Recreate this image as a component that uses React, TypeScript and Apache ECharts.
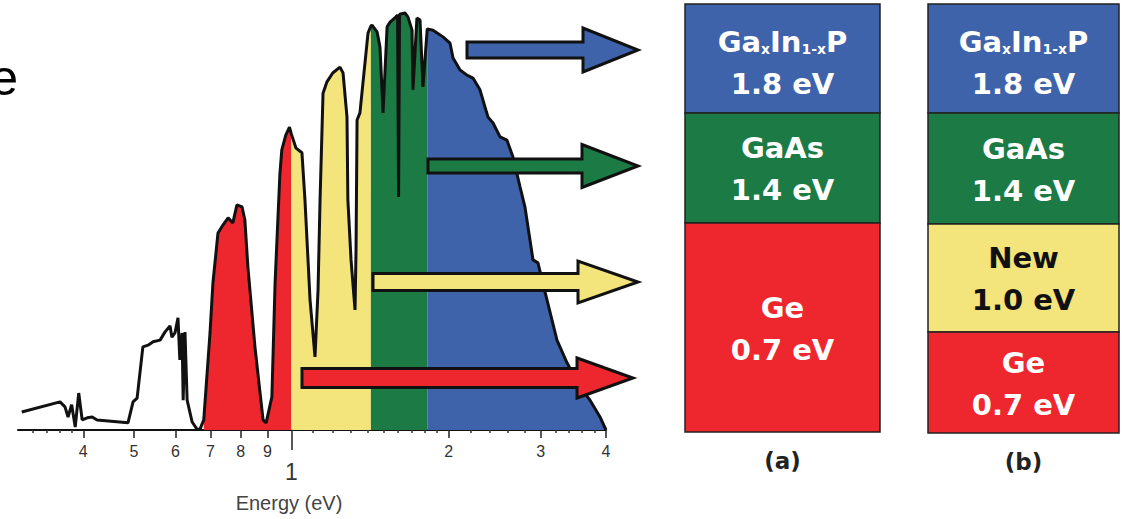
import React, { useEffect, useRef } from "react";
import * as echarts from "echarts";

// Solar spectrum: photon energy (eV) and relative intensity (0-100)
const energies = [
  0.305, 0.361, 0.369, 0.374, 0.38, 0.386, 0.392, 0.398, 0.407, 0.416, 0.425, 0.487, 0.498, 0.507,
  0.52, 0.532, 0.544, 0.561, 0.573, 0.586, 0.591, 0.599, 0.607, 0.612, 0.618, 0.621, 0.626, 0.632,
  0.646, 0.66, 0.669, 0.68, 0.699, 0.708, 0.724, 0.74, 0.757, 0.773, 0.787, 0.805, 0.815, 0.826,
  0.852, 0.883, 0.895, 0.918, 0.931, 0.943, 0.951, 0.959, 0.976, 0.992, 1.0, 1.021, 1.048, 1.062,
  1.086, 1.11, 1.125, 1.135, 1.15, 1.17, 1.2, 1.239, 1.256, 1.278, 1.283, 1.301, 1.324, 1.33, 1.336,
  1.353, 1.371, 1.402, 1.42, 1.427, 1.459, 1.478, 1.498, 1.525, 1.545, 1.578, 1.597, 1.604, 1.611,
  1.65, 1.672, 1.702, 1.709, 1.739, 1.763, 1.786, 1.82, 1.867, 1.951, 2.012, 2.039, 2.103, 2.168,
  2.226, 2.296, 2.347, 2.379, 2.432, 2.508, 2.586, 2.655, 2.739, 2.8, 2.9, 2.964, 3.084, 3.223,
  3.369, 3.567, 3.728, 3.896, 4.0,
];
const intensities = [
  4.3, 6.7, 5.5, 3.1, 6.0, 0.7, 8.8, 2.4, 2.9, 3.1, 2.4, 1.7, 6.7, 7.6,
  19.8, 20.2, 21.0, 21.4, 23.3, 24.8, 22.1, 23.1, 26.7, 16.7, 23.1, 7.1, 23.3, 7.1,
  1.9, 0.2, 0.2, 2.4, 23.1, 35.0, 46.9, 48.8, 50.5, 49.3, 53.6, 53.1, 50.0, 38.8,
  19.8, 2.4, 1.7, 7.9, 35.0, 50.7, 61.0, 66.7, 70.2, 72.1, 70.5, 67.1, 66.0, 54.8,
  31.0, 17.4, 33.3, 54.8, 80.2, 82.9, 85.0, 86.4, 85.0, 74.5, 54.8, 40.5, 28.6, 42.9, 73.8,
  75.5, 82.6, 94.5, 96.2, 96.4, 94.8, 91.2, 75.5, 96.0, 97.1, 98.1, 98.8, 55.5, 99.0,
  99.3, 98.3, 95.2, 81.0, 98.1, 97.6, 81.7, 95.5, 95.2, 93.6, 92.1, 88.6, 85.7, 84.5,
  83.8, 81.0, 76.9, 74.5, 73.1, 69.8, 69.0, 65.0, 57.9, 53.0, 40.5, 39.8, 31.0, 21.4,
  16.0, 10.2, 7.1, 3.1, 0.0,
];

// Absorption bands of the sub-cells (eV)
const bandEdges = [0.68, 1.0, 1.42, 1.82, 4.0];
const bandColors = ["#ee272e", "#f3e47b", "#1c7a45", "#3f63aa"];

// Axis ticks
const axisMin = 0.3;
const axisMax = 4;
const majorTickEnergies = [0.4, 0.5, 0.6, 0.7, 0.8, 0.9, 2, 3, 4];
const majorTickLabels = ["4", "5", "6", "7", "8", "9", "2", "3", "4"];
const unitTickEnergies = [1];
const unitTickLabels = ["1"];
const minorTickEnergies = [
  0.32, 0.34, 0.36, 0.38, 1.1, 1.2, 1.3, 1.4, 1.5, 1.6, 1.7, 1.8, 1.9, 2.2, 2.4, 2.6, 2.8, 3.2, 3.4,
  3.6, 3.8,
];

// Cell stacks
const stackANames = ["GaInP", "GaAs", "Ge"];
const stackAGaps = ["1.8 eV", "1.4 eV", "0.7 eV"];
const stackAColors = ["#3f63aa", "#1c7a45", "#ee272e"];
const stackBNames = ["GaInP", "GaAs", "New", "Ge"];
const stackBGaps = ["1.8 eV", "1.4 eV", "1.0 eV", "0.7 eV"];
const stackBColors = ["#3f63aa", "#1c7a45", "#f3e47b", "#ee272e"];
const stackTitles = ["(a)", "(b)"];

const L = (e: number) => Math.log10(e);

export default function App() {
  const ref = useRef<HTMLDivElement>(null);

  useEffect(() => {
    const chart = echarts.init(ref.current!, undefined, { renderer: "svg" });

    const pts = energies.map((e, i) => [L(e), intensities[i]]);
    const bandSeries = bandColors.map((c, b) => ({
      type: "line",
      data: energies
        .map((e, i) => ({ e, v: intensities[i] }))
        .filter((p) => p.e >= bandEdges[b] - 1e-9 && p.e <= bandEdges[b + 1] + 1e-9)
        .map((p) => [L(p.e), p.v]),
      symbol: "none",
      lineStyle: { opacity: 0, width: 0 },
      areaStyle: { color: c, opacity: 1 },
      silent: true,
      z: 2,
    }));

    const majorLog = majorTickEnergies.map(L);
    const unitLog = unitTickEnergies.map(L);
    const minorLog = minorTickEnergies.map(L);
    const labelFor = (vals: number[], labels: string[]) => (v: number) => {
      const i = vals.findIndex((x) => Math.abs(x - v) < 1e-6);
      return i >= 0 ? labels[i] : "";
    };

    const commonAxis = {
      type: "value",
      min: L(axisMin),
      max: L(axisMax),
      position: "bottom",
      gridIndex: 0,
      splitLine: { show: false },
    };

    // Layout of the two stacks (pixels)
    const stacks = [
      { x: 685, w: 195, edges: [4, 113, 223, 432], names: stackANames, gaps: stackAGaps, colors: stackAColors, title: stackTitles[0], ty: 461 },
      { x: 928, w: 191, edges: [4, 113, 224, 332, 433], names: stackBNames, gaps: stackBGaps, colors: stackBColors, title: stackTitles[1], ty: 462 },
    ];
    const rich = {
      n: { fontSize: 29, fontWeight: "bold", fontFamily: "DejaVu Sans", lineHeight: 42 },
      s: { fontSize: 14, fontWeight: "bold", fontFamily: "DejaVu Sans", padding: [14, 0, 0, 0] },
    };
    const nameText = (n: string) => (n === "GaInP" ? "{n|Ga}{s|x}{n|In}{s|1-x}{n|P}" : `{n|${n}}`);

    const stackGraphics: any[] = [];
    stacks.forEach((s) => {
      s.names.forEach((name, i) => {
        const y0 = s.edges[i];
        const y1 = s.edges[i + 1];
        const dark = s.colors[i] === "#f3e47b";
        stackGraphics.push({
          type: "rect",
          shape: { x: s.x, y: y0, width: s.w, height: y1 - y0 },
          style: { fill: s.colors[i], stroke: "#222", lineWidth: 1.5 },
          z: 10,
        });
        stackGraphics.push({
          type: "text",
          x: s.x + s.w / 2,
          y: (y0 + y1) / 2 + (name === "GaInP" ? 4 : 1),
          style: {
            text: `${nameText(name)}\n{n|${s.gaps[i]}}`,
            rich,
            fill: dark ? "#111" : "#ffffff",
            align: "center",
            verticalAlign: "middle",
          },
          z: 11,
        });
      });
      stackGraphics.push({
        type: "text",
        x: s.x + s.w / 2,
        y: s.ty,
        style: {
          text: s.title,
          fill: "#222",
          font: 'bold 23px "DejaVu Sans"',
          align: "center",
          verticalAlign: "middle",
        },
        z: 11,
      });
    });

    // Arrows (pixels): start, head base, tip, centre y, shaft half-height, head half-height
    const arrows = [
      { c: bandColors[3], x0: 467, xb: 583, xt: 638, cy: 50, sh: 8, hh: 22 },
      { c: bandColors[2], x0: 428, xb: 582, xt: 638, cy: 166, sh: 7, hh: 21.5 },
      { c: bandColors[1], x0: 373, xb: 578, xt: 638, cy: 282, sh: 8.5, hh: 21 },
      { c: bandColors[0], x0: 302, xb: 577, xt: 633, cy: 378, sh: 9.5, hh: 20 },
    ];
    const arrowGraphics = arrows.map((a) => ({
      type: "polygon",
      shape: {
        points: [
          [a.x0, a.cy - a.sh],
          [a.xb, a.cy - a.sh],
          [a.xb, a.cy - a.hh],
          [a.xt, a.cy],
          [a.xb, a.cy + a.hh],
          [a.xb, a.cy + a.sh],
          [a.x0, a.cy + a.sh],
        ],
      },
      style: { fill: a.c, stroke: "#111", lineWidth: 3, lineJoin: "miter" },
      z: 20,
    }));

    chart.setOption({
      animation: false,
      grid: { left: 18, right: 516, top: 10, bottom: 89 },
      xAxis: [
        {
          ...commonAxis,
          axisLine: { show: true, lineStyle: { color: "#111", width: 2 } },
          axisTick: { show: true, customValues: majorLog, length: 8, lineStyle: { color: "#222", width: 1.5 } },
          axisLabel: {
            show: true,
            customValues: majorLog,
            formatter: labelFor(majorLog, majorTickLabels),
            margin: 13,
            fontSize: 16,
            fontFamily: "Liberation Sans",
            color: "#333",
          },
        },
        {
          ...commonAxis,
          axisLine: { show: false },
          axisTick: { show: true, customValues: unitLog, length: 20, lineStyle: { color: "#222", width: 1.5 } },
          axisLabel: {
            show: true,
            customValues: unitLog,
            formatter: labelFor(unitLog, unitTickLabels),
            margin: 30,
            fontSize: 23,
            fontFamily: "Liberation Sans",
            color: "#333",
          },
        },
        {
          ...commonAxis,
          axisLine: { show: false },
          axisTick: { show: true, customValues: minorLog, length: 3, lineStyle: { color: "#333", width: 1.5 } },
          axisLabel: { show: false },
        },
      ],
      yAxis: { type: "value", min: 0, max: 100, show: false },
      series: [
        ...bandSeries,
        {
          type: "line",
          data: pts,
          symbol: "none",
          lineStyle: { color: "#111", width: 3 },
          silent: true,
          z: 5,
        },
      ],
      graphic: [
        ...arrowGraphics,
        ...stackGraphics,
        {
          type: "text",
          x: 289,
          y: 503,
          style: {
            text: "Energy (eV)",
            fill: "#444",
            font: '20px "Liberation Sans"',
            align: "center",
            verticalAlign: "middle",
          },
        },
        {
          type: "text",
          x: 18,
          y: 78,
          style: {
            text: "e",
            fill: "#000",
            font: '50px "Liberation Sans"',
            align: "right",
            verticalAlign: "middle",
          },
        },
      ],
    });

    return () => chart.dispose();
  }, []);

  return (
    <div
      ref={ref}
      style={{ position: "fixed", left: 0, top: 0, width: 1122, height: 519, background: "#fff" }}
    />
  );
}
